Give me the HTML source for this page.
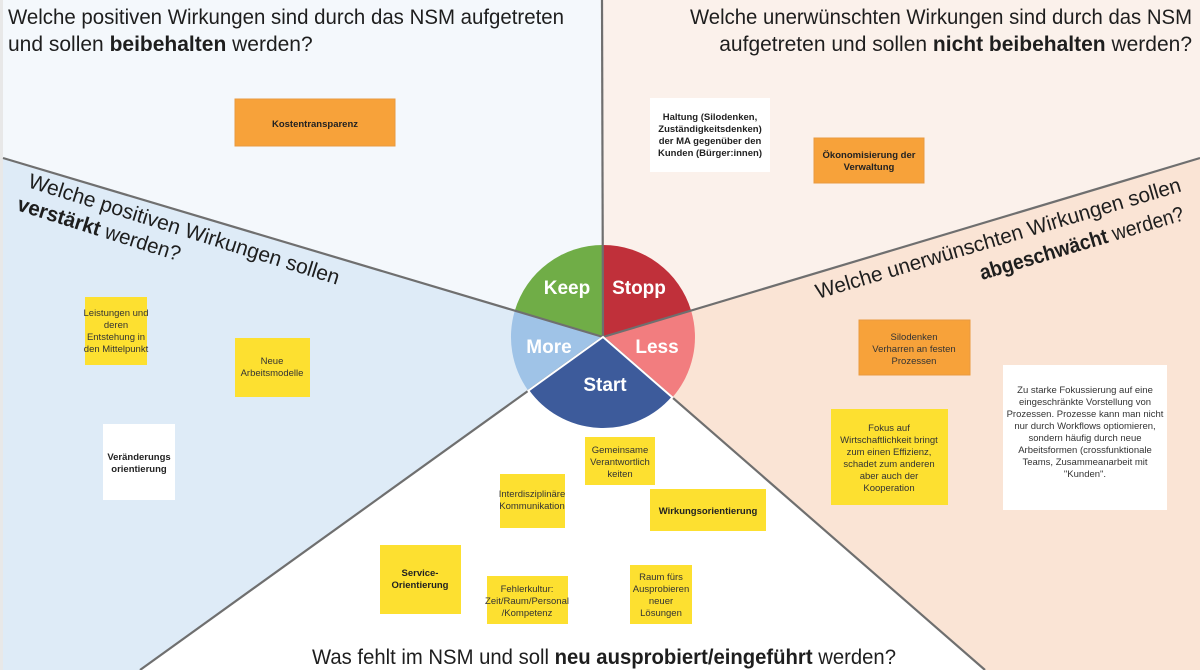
<!DOCTYPE html>
<html><head><meta charset="utf-8"><style>
html,body{margin:0;padding:0;background:#fff}
svg{display:block}
text{font-family:"Liberation Sans",sans-serif}
.t{font-size:21px;fill:#1e1e1e}
.n{font-size:9.5px;fill:#333;text-anchor:middle}
.nb{font-size:9.5px;fill:#222;text-anchor:middle;font-weight:bold}
.p{font-size:19px;fill:#fff;font-weight:bold;text-anchor:middle}
</style></head><body>
<svg width="1200" height="670" viewBox="0 0 1200 670" xmlns="http://www.w3.org/2000/svg">
<rect width="1200" height="670" fill="#fff"/>
<polygon points="0,0 602,0 603,337 3,158 0,158" fill="#f4f8fc"/>
<polygon points="3,158 603,337 140,670 3,670" fill="#deebf7"/>
<rect x="0" y="0" width="3" height="670" fill="#e8e8e8"/>
<polygon points="602,0 1200,0 1200,158 603,337" fill="#fbf1eb"/>
<polygon points="1200,158 603,337 985,670 1200,670" fill="#fae4d5"/>

<!-- pie -->
<g stroke="none">
<path d="M603,337 L514.8,310.7 A92,92 0 0 1 603,245 Z" fill="#70ad47"/>
<path d="M603,337 L603,245 A92,92 0 0 1 691.1,310.6 Z" fill="#c0303a"/>
<path d="M603,337 L691.1,310.6 A92,92 0 0 1 672.4,397.4 Z" fill="#f27d7f"/>
<path d="M603,337 L528.3,390.7 A92,92 0 0 1 514.8,310.7 Z" fill="#9fc3e7"/>
</g>

<g stroke="#6f6f6f" stroke-width="2.2">
<line x1="602" y1="0" x2="603" y2="337"/>
<line x1="3" y1="158" x2="603" y2="337"/>
<line x1="1200" y1="158" x2="603" y2="337"/>
<line x1="140" y1="670" x2="603" y2="337"/>
<line x1="985" y1="670" x2="603" y2="337"/>
</g>
<path d="M603,337 L672.4,397.4 A92,92 0 0 1 528.3,390.7 Z" fill="#3d5b9b" stroke="#fff" stroke-width="2"/>

<text class="p" x="567" y="294">Keep</text>
<text class="p" x="639" y="294">Stopp</text>
<text class="p" x="657" y="353">Less</text>
<text class="p" x="549" y="353">More</text>
<text class="p" x="605" y="391">Start</text>

<!-- titles -->
<text class="t" x="8" y="24" textLength="556" lengthAdjust="spacingAndGlyphs">Welche positiven Wirkungen sind durch das NSM aufgetreten</text>
<text class="t" x="8" y="51">und sollen <tspan font-weight="bold">beibehalten</tspan> werden?</text>
<text class="t" x="1192" y="24" text-anchor="end" textLength="502" lengthAdjust="spacingAndGlyphs">Welche unerwünschten Wirkungen sind durch das NSM</text>
<text class="t" x="1192" y="51" text-anchor="end">aufgetreten und sollen <tspan font-weight="bold">nicht beibehalten</tspan> werden?</text>
<text class="t" x="312" y="664" textLength="584" lengthAdjust="spacingAndGlyphs">Was fehlt im NSM und soll <tspan font-weight="bold">neu ausprobiert/eingeführt</tspan> werden?</text>

<g transform="translate(27,187) rotate(17.5)">
<text class="t" x="0" y="0" textLength="325" lengthAdjust="spacingAndGlyphs">Welche positiven Wirkungen sollen</text>
</g>
<g transform="translate(16,210) rotate(17.5)">
<text class="t" x="0" y="0" textLength="170" lengthAdjust="spacingAndGlyphs"><tspan font-weight="bold">verstärkt</tspan> werden?</text>
</g>
<g transform="translate(818,299) rotate(-16.5)">
<text class="t" x="0" y="0" textLength="380" lengthAdjust="spacingAndGlyphs">Welche unerwünschten Wirkungen sollen</text>
</g>
<g transform="translate(982,280) rotate(-16.5)">
<text class="t" x="0" y="0" textLength="212" lengthAdjust="spacingAndGlyphs"><tspan font-weight="bold">abgeschwächt</tspan> werden?</text>
</g>

<!-- notes -->
<g>
<rect x="235" y="99" width="160" height="47" fill="#f7a23a" stroke="#e99a40"/>
<text class="nb" x="315" y="127">Kostentransparenz</text>

<rect x="650" y="98" width="120" height="74" fill="#fff"/>
<text class="nb" x="710" y="120">Haltung (Silodenken,</text>
<text class="nb" x="710" y="132">Zuständigkeitsdenken)</text>
<text class="nb" x="710" y="144">der MA gegenüber den</text>
<text class="nb" x="710" y="156">Kunden (Bürger:innen)</text>

<rect x="814" y="138" width="110" height="45" fill="#f7a23a" stroke="#e99a40"/>
<text class="nb" x="869" y="158">Ökonomisierung der</text>
<text class="nb" x="869" y="170">Verwaltung</text>

<rect x="85" y="297" width="62" height="68" fill="#fde030"/>
<text class="n" x="116" y="316">Leistungen und</text>
<text class="n" x="116" y="328">deren</text>
<text class="n" x="116" y="340">Entstehung in</text>
<text class="n" x="116" y="352">den Mittelpunkt</text>

<rect x="235" y="338" width="75" height="59" fill="#fde030"/>
<text class="n" x="272" y="364">Neue</text>
<text class="n" x="272" y="376">Arbeitsmodelle</text>

<rect x="103" y="424" width="72" height="76" fill="#fff"/>
<text class="nb" x="139" y="460">Veränderungs</text>
<text class="nb" x="139" y="472">orientierung</text>

<rect x="859" y="320" width="111" height="55" fill="#f7a23a" stroke="#e99a40"/>
<text class="n" x="914" y="340">Silodenken</text>
<text class="n" x="914" y="352">Verharren an festen</text>
<text class="n" x="914" y="364">Prozessen</text>

<rect x="831" y="409" width="117" height="96" fill="#fde030"/>
<text class="n" x="889" y="431">Fokus auf</text>
<text class="n" x="889" y="443">Wirtschaftlichkeit bringt</text>
<text class="n" x="889" y="455">zum einen Effizienz,</text>
<text class="n" x="889" y="467">schadet zum anderen</text>
<text class="n" x="889" y="479">aber auch der</text>
<text class="n" x="889" y="491">Kooperation</text>

<rect x="1003" y="365" width="164" height="145" fill="#fff"/>
<text class="n" x="1085" y="393">Zu starke Fokussierung auf eine</text>
<text class="n" x="1085" y="405">eingeschränkte Vorstellung von</text>
<text class="n" x="1085" y="417">Prozessen. Prozesse kann man nicht</text>
<text class="n" x="1085" y="429">nur durch Workflows optiomieren,</text>
<text class="n" x="1085" y="441">sondern häufig durch neue</text>
<text class="n" x="1085" y="453">Arbeitsformen (crossfunktionale</text>
<text class="n" x="1085" y="465">Teams, Zusammeanarbeit mit</text>
<text class="n" x="1085" y="477">"Kunden".</text>

<rect x="585" y="437" width="70" height="48" fill="#fde030"/>
<text class="n" x="620" y="453">Gemeinsame</text>
<text class="n" x="620" y="465">Verantwortlich</text>
<text class="n" x="620" y="477">keiten</text>

<rect x="500" y="474" width="65" height="54" fill="#fde030"/>
<text class="n" x="532" y="497">Interdisziplinäre</text>
<text class="n" x="532" y="509">Kommunikation</text>

<rect x="650" y="489" width="116" height="42" fill="#fde030"/>
<text class="nb" x="708" y="514">Wirkungsorientierung</text>

<rect x="380" y="545" width="81" height="69" fill="#fde030"/>
<text class="nb" x="420" y="576">Service-</text>
<text class="nb" x="420" y="588">Orientierung</text>

<rect x="487" y="576" width="81" height="48" fill="#fde030"/>
<text class="n" x="527" y="592">Fehlerkultur:</text>
<text class="n" x="527" y="604">Zeit/Raum/Personal</text>
<text class="n" x="527" y="616">/Kompetenz</text>

<rect x="630" y="565" width="62" height="59" fill="#fde030"/>
<text class="n" x="661" y="580">Raum fürs</text>
<text class="n" x="661" y="592">Ausprobieren</text>
<text class="n" x="661" y="604">neuer</text>
<text class="n" x="661" y="616">Lösungen</text>
</g>
</svg>
</body></html>
